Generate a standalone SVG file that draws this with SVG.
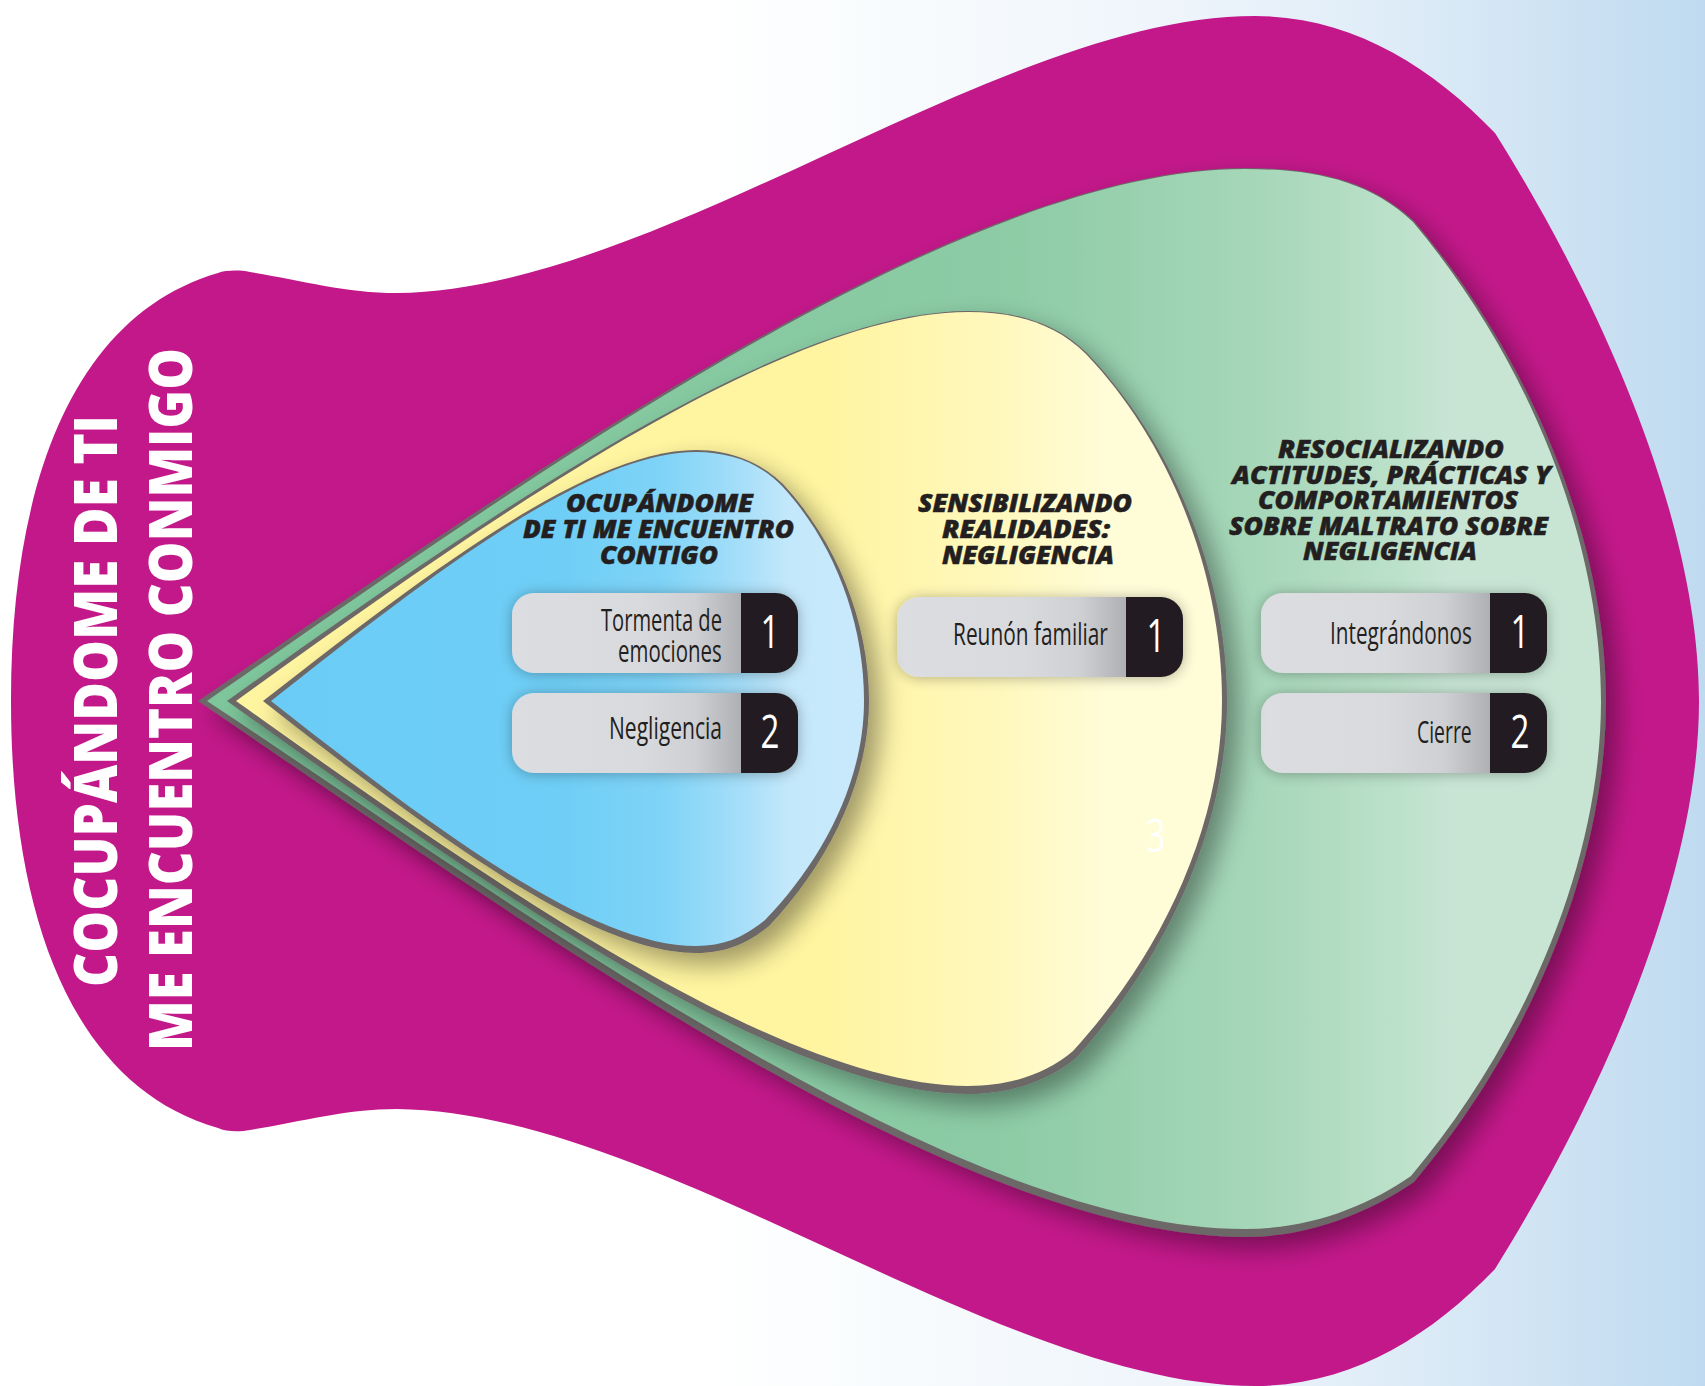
<svg xmlns="http://www.w3.org/2000/svg" width="1705" height="1386" viewBox="0 0 1705 1386">
<style>
.edge{fill:#6d6767}
.title{font-family:"Open Sans","Noto Sans",sans-serif;font-weight:800;font-style:italic;font-size:25px;fill:#231f20;stroke:#231f20;stroke-width:.5}
.label{font-family:"Open Sans","Noto Sans",sans-serif;font-size:31px;fill:#231f20}
.num{font-family:"Open Sans","Noto Sans",sans-serif;font-size:46px;fill:#fff;text-anchor:middle}
.side{font-family:"Open Sans","Noto Sans",sans-serif;font-weight:800;font-size:61px;fill:#fff}
</style>
<defs>
<linearGradient id="bg" gradientUnits="userSpaceOnUse" x1="700" y1="0" x2="1705" y2="0"><stop offset="0" stop-color="#fff"/><stop offset="0.11" stop-color="#fbfdfe"/><stop offset="0.46" stop-color="#eff5fb"/><stop offset="0.67" stop-color="#e0edf8"/><stop offset="0.81" stop-color="#d2e5f4"/><stop offset="1" stop-color="#bfdaf0"/></linearGradient>
<linearGradient id="gr" gradientUnits="userSpaceOnUse" x1="204" y1="0" x2="1450" y2="0"><stop offset="0" stop-color="#7dc69b"/><stop offset="0.639" stop-color="#8ccba5"/><stop offset="0.84" stop-color="#a5d6b8"/><stop offset="0.96" stop-color="#bce1ca"/><stop offset="1" stop-color="#c8e5d4"/></linearGradient>
<linearGradient id="ye" gradientUnits="userSpaceOnUse" x1="815" y1="0" x2="1110" y2="0"><stop offset="0" stop-color="#fff49f"/><stop offset="0.63" stop-color="#fff8bd"/><stop offset="1" stop-color="#fffcd8"/></linearGradient>
<linearGradient id="bl" gradientUnits="userSpaceOnUse" x1="263" y1="0" x2="867" y2="0"><stop offset="0" stop-color="#6accf6"/><stop offset="0.49" stop-color="#6fcef6"/><stop offset="0.657" stop-color="#7ed3f7"/><stop offset="0.79" stop-color="#a5def9"/><stop offset="0.873" stop-color="#c4e8fb"/><stop offset="1" stop-color="#c8e9fb"/></linearGradient>
<linearGradient id="pill" x1="0" y1="0" x2="1" y2="0"><stop offset="0" stop-color="#dcdde0"/><stop offset="0.55" stop-color="#d9dadd"/><stop offset="0.8" stop-color="#cfd0d4"/><stop offset="1" stop-color="#afb0b4"/></linearGradient>
<filter id="sh" x="-10%" y="-10%" width="125%" height="125%"><feGaussianBlur in="SourceAlpha" stdDeviation="13"/><feOffset dx="12" dy="12"/><feComponentTransfer><feFuncA type="linear" slope="0.38"/></feComponentTransfer><feMerge><feMergeNode/><feMergeNode in="SourceGraphic"/></feMerge></filter>
<filter id="psh" x="-15%" y="-40%" width="130%" height="180%"><feGaussianBlur in="SourceAlpha" stdDeviation="7"/><feOffset dx="0" dy="1"/><feComponentTransfer><feFuncA type="linear" slope="0.3"/></feComponentTransfer><feMerge><feMergeNode/><feMergeNode in="SourceGraphic"/></feMerge></filter>
<path id="pl" d="M22,0H229V80H22A22,22 0 0 1 0,58V22A22,22 0 0 1 22,0Z" fill="url(#pill)"/>
<path id="pd" d="M229,0H264A22,22 0 0 1 286,22V58A22,22 0 0 1 264,80H229Z" fill="#231f20"/>
</defs>
<rect width="1705" height="1386" fill="url(#bg)"/>
<g id="outer">
<path fill="#c3188a" d="M218,273C226,270 240,270 250,272C300,280 345,293 397,293C660,290 1000,16 1255,16C1350,16 1430,65 1495,133C1600,300 1699,520 1699,701C1699,880 1600,1100 1495,1269C1430,1337 1350,1386 1255,1386C1000,1386 660,1112 397,1109C345,1109 300,1122 250,1130C240,1132 226,1132 218,1128C75,1087 11,922 11,701C11,480 75,315 218,273Z"/>
<text class="side" transform="translate(117,987) rotate(-90)" textLength="572" lengthAdjust="spacingAndGlyphs">COCUPÁNDOME DE TI</text>
<text class="side" transform="translate(192,1051) rotate(-90)" textLength="703" lengthAdjust="spacingAndGlyphs">ME ENCUENTRO CONMIGO</text>
</g>
<g id="green">
<path class="edge" filter="url(#sh)" d="M198,701C500,495 950,168 1245,168C1310,168 1368,178 1414,221C1532,360 1606,540 1606,701C1606,862 1532,1042 1414,1182C1370,1212 1310,1237 1245,1237C950,1237 500,905 198,701Z"/>
<path fill="url(#gr)" d="M207,701C503,497 950,169 1245,169C1310,169 1368,179 1413,222C1529,360 1601,540 1601,701C1601,860 1527,1038 1411,1176C1368,1206 1310,1229 1245,1229C950,1229 505,898 207,701Z"/>
<text class="title" x="1278" y="458" textLength="226" lengthAdjust="spacingAndGlyphs">RESOCIALIZANDO</text>
<text class="title" x="1232" y="484" textLength="319" lengthAdjust="spacingAndGlyphs">ACTITUDES, PRÁCTICAS Y</text>
<text class="title" x="1258" y="509" textLength="260" lengthAdjust="spacingAndGlyphs">COMPORTAMIENTOS</text>
<text class="title" x="1229" y="535" textLength="319" lengthAdjust="spacingAndGlyphs">SOBRE MALTRATO SOBRE</text>
<text class="title" x="1303" y="560" textLength="174" lengthAdjust="spacingAndGlyphs">NEGLIGENCIA</text>
</g>
<g id="green-1"><g filter="url(#psh)" transform="translate(1261,593)"><use href="#pl"/><use href="#pd"/></g>
<text class="label" transform="translate(1330,644) scale(.72,1)" textLength="197" lengthAdjust="spacingAndGlyphs">Integrándonos</text>
<text class="num" transform="translate(1520,648) scale(.72,1)">1</text></g>
<g id="green-2"><g filter="url(#psh)" transform="translate(1261,693)"><use href="#pl"/><use href="#pd"/></g>
<text class="label" transform="translate(1417,743) scale(.72,1)" textLength="76" lengthAdjust="spacingAndGlyphs">Cierre</text>
<text class="num" transform="translate(1520,748) scale(.72,1)">2</text></g>
<g id="yellow">
<path class="edge" filter="url(#sh)" d="M227,701C480,520 780,311 968,311C1015,311 1055,322 1087,353C1170,440 1227,570 1227,701C1227,832 1162,962 1077,1057C1050,1080 1012,1094 968,1094C780,1094 480,882 227,701Z"/>
<path fill="url(#ye)" d="M236,701C484,522 780,312 968,312C1015,312 1055,323 1086,354C1168,440 1222,570 1222,701C1222,830 1158,958 1073,1051C1046,1074 1010,1086 968,1086C780,1086 484,878 236,701Z"/>
<text class="title" x="918" y="512" textLength="214" lengthAdjust="spacingAndGlyphs">SENSIBILIZANDO</text>
<text class="title" x="942" y="538" textLength="168" lengthAdjust="spacingAndGlyphs">REALIDADES:</text>
<text class="title" x="942" y="564" textLength="172" lengthAdjust="spacingAndGlyphs">NEGLIGENCIA</text>
<text class="num" transform="translate(1156,852) scale(.72,1)">3</text>
</g>
<g id="yellow-1"><g filter="url(#psh)" transform="translate(897,597)"><use href="#pl"/><use href="#pd"/></g>
<text class="label" transform="translate(953,645) scale(.72,1)" textLength="215" lengthAdjust="spacingAndGlyphs">Reunón familiar</text>
<text class="num" transform="translate(1156,652) scale(.72,1)">1</text></g>
<g id="blue">
<path class="edge" filter="url(#sh)" d="M263,701C430,570 590,450 696,450C730,450 760,462 783,484C835,540 869,620 869,701C869,785 825,867 769,926C747,944 725,953 696,953C590,953 430,832 263,701Z"/>
<path fill="url(#bl)" d="M271,701C434,572 590,452 696,452C730,452 760,463 782,486C833,541 864,620 864,701C864,783 821,862 765,920C743,938 723,946 696,946C590,946 434,829 271,701Z"/>
<text class="title" x="566" y="512" textLength="187" lengthAdjust="spacingAndGlyphs">OCUPÁNDOME</text>
<text class="title" x="523" y="538" textLength="271" lengthAdjust="spacingAndGlyphs">DE TI ME ENCUENTRO</text>
<text class="title" x="600" y="564" textLength="118" lengthAdjust="spacingAndGlyphs">CONTIGO</text>
</g>
<g id="blue-1"><g filter="url(#psh)" transform="translate(512,593)"><use href="#pl"/><use href="#pd"/></g>
<text class="label" transform="translate(601,631) scale(.72,1)" textLength="168" lengthAdjust="spacingAndGlyphs">Tormenta de</text>
<text class="label" transform="translate(618,662) scale(.72,1)" textLength="144" lengthAdjust="spacingAndGlyphs">emociones</text>
<text class="num" transform="translate(770,648) scale(.72,1)">1</text></g>
<g id="blue-2"><g filter="url(#psh)" transform="translate(512,693)"><use href="#pl"/><use href="#pd"/></g>
<text class="label" transform="translate(609,739) scale(.72,1)" textLength="157" lengthAdjust="spacingAndGlyphs">Negligencia</text>
<text class="num" transform="translate(770,748) scale(.72,1)">2</text></g>
<g id="connectors"/>
</svg>
